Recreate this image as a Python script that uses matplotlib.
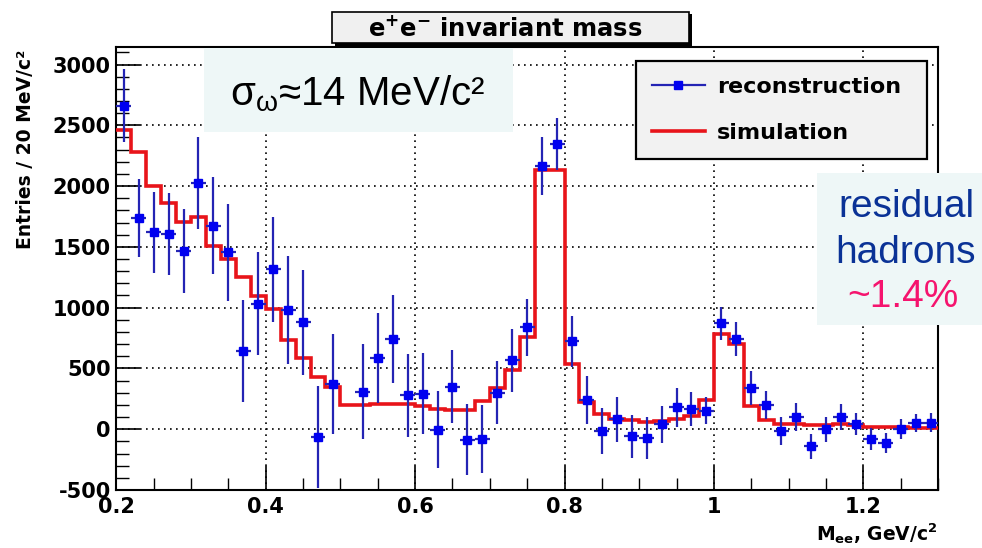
import numpy as np
import matplotlib
matplotlib.use("Agg")
import matplotlib.pyplot as plt
from matplotlib.patches import Rectangle
from matplotlib.lines import Line2D
from matplotlib.ticker import MultipleLocator, FixedLocator

plt.rcParams["axes.unicode_minus"] = False

# 20 MeV/c^2 bins from 0.2 to 1.3 GeV/c^2
bin_edges = np.linspace(0.2, 1.3, 56)
bin_centers = 0.5 * (bin_edges[:-1] + bin_edges[1:])

# reconstructed e+e- spectrum (nan = empty bin, not drawn)
reco = [2661, 1737, 1620, 1605, 1465, 2027, 1673, 1454, 642, 1034,
        1314, 979, 878, -65, 373, np.nan, 307, 587, 741, 280,
        293, -3, 348, -85, -77, 302, 568, 837, 2165, 2346,
        724, 239, -14, 80, -58, -71, 40, 180, 165, 151,
        870, 741, 340, 198, -14, 101, -140, 0, 101, 41,
        -77, -113, 0, 52, 55]
reco_err = [300, 320, 335, 338, 348, 380, 400, 400, 420, 425,
            430, 445, 435, 420, 410, np.nan, 390, 370, 360, 340,
            330, 320, 300, 290, 280, 262, 258, 235, 235, 215,
            210, 200, 190, 185, 178, 175, 155, 160, 140, 110,
            135, 137, 140, 117, 117, 112, 103, 103, 105, 90,
            90, 82, 82, 72, 75]

# simulated spectrum
sim = [2461, 2283, 2003, 1863, 1706, 1747, 1506, 1397, 1249, 1095,
       985, 733, 582, 431, 348, 203, 200, 205, 210, 205,
       195, 165, 160, 160, 230, 335, 486, 755, 2132, 2132,
       540, 225, 123, 88, 74, 60, 66, 82, 107, 244,
       782, 700, 189, 79, 41, 40, 38, 38, 40, 35,
       20, 18, 15, 10, 10]

x_ticks = [0.2, 0.4, 0.6, 0.8, 1.0, 1.2]
x_ticklabels = ["0.2", "0.4", "0.6", "0.8", "1", "1.2"]
y_ticks = [-500, 0, 500, 1000, 1500, 2000, 2500, 3000]

blue = "#0000f0"
blue_line = "#2424b4"
red = "#e8141a"
box_fill = "#eef7f7"

fig = plt.figure(figsize=(9.82, 5.48), dpi=100)
W, H = 982.0, 548.0
ax = fig.add_axes([116.3 / W, 1 - 490 / H, (938 - 116.3) / W, (490 - 47) / H])

# simulation histogram
ax.stairs(sim, bin_edges, color=red, lw=2.6, baseline=None, zorder=3)

# reconstruction points with errors
half_bin = np.diff(bin_edges) / 2
ax.errorbar(bin_centers, reco, yerr=reco_err, xerr=half_bin, fmt="s",
            color=blue_line, mfc=blue, mec=blue, ms=6, elinewidth=1.6,
            capsize=0, zorder=4)

ax.set_xlim(0.2, 1.3)
ax.set_ylim(-500, 3144)

ax.xaxis.set_major_locator(FixedLocator(x_ticks))
ax.set_xticklabels(x_ticklabels)
ax.xaxis.set_minor_locator(MultipleLocator(0.05))
ax.yaxis.set_major_locator(FixedLocator(y_ticks))
ax.yaxis.set_minor_locator(MultipleLocator(100))

ax.tick_params(which="both", direction="in", top=False, right=False, colors="black")
ax.tick_params(which="major", length=17, width=1.2, labelsize=15)
ax.tick_params(which="minor", length=9, width=1.0)
ax.tick_params(axis="y", pad=4)
ax.tick_params(axis="x", pad=5)
for lbl in ax.get_xticklabels() + ax.get_yticklabels():
    lbl.set_fontweight("bold")
    lbl.set_family("DejaVu Sans")

ax.grid(True, which="major", color="black", linestyle=(0, (1, 2.6)), lw=1.2)
for sp in ax.spines.values():
    sp.set_linewidth(1.5)
    sp.set_color("black")

# legend
handles = [
    Line2D([], [], color=blue_line, lw=1.6, marker="s", ms=6, mfc=blue, mec=blue),
    Line2D([], [], color=red, lw=2.6),
]
leg = ax.legend(handles, ["reconstruction", "simulation"],
                loc="upper left",
                bbox_to_anchor=((636 - 116.3) / 821.7, (490 - 61) / 443.0,
                                (927 - 636) / 821.7, 0.0),
                mode="expand", prop={"weight": "bold", "size": 16},
                frameon=True, fancybox=False, borderpad=0.7,
                labelspacing=1.2, handlelength=2.4, handletextpad=0.55,
                borderaxespad=0)
leg.get_frame().set_facecolor("#f2f2f2")
leg.get_frame().set_edgecolor("black")
leg.get_frame().set_linewidth(1.6)
leg.get_frame().set_alpha(1)
leg.set_zorder(6)

# axis labels
fig.text(26 / W, 1 - 50 / H, "Entries / 20 MeV/c²", rotation=90, ha="center",
         va="top", fontsize=13.5, fontweight="bold")
fig.text(938 / W, 1 - 541 / H, r"$\mathbf{M_{ee}}$, GeV/c$^{\mathbf{2}}$",
         ha="right", va="baseline", fontsize=13.5, fontweight="bold")

# title box with shadow
fig.add_artist(Rectangle((335 / W, 1 - 46 / H), 357 / W, 32 / H,
                         transform=fig.transFigure, facecolor="black",
                         edgecolor="none", zorder=5))
fig.add_artist(Rectangle((332 / W, 1 - 43 / H), 357 / W, 31 / H,
                         transform=fig.transFigure, facecolor="#f0f0f0",
                         edgecolor="black", lw=1.2, zorder=6))
fig.text(505 / W, 1 - 28 / H, r"$\mathbf{e^{+}e^{-}}$ invariant mass",
         ha="center", va="center", fontsize=17.5, fontweight="bold", zorder=7)

# sigma annotation box
fig.add_artist(Rectangle((204 / W, 1 - 132 / H), (513 - 204) / W, (132 - 48) / H,
                         transform=fig.transFigure, facecolor=box_fill,
                         edgecolor="none", zorder=7))
fig.text(358 / W, 1 - 105 / H, r"σ$_{\mathregular{ω}}$≈14 MeV/c²", ha="center",
         va="baseline", fontsize=29, family="Liberation Sans", color="black",
         zorder=8)

# residual hadrons box
fig.add_artist(Rectangle((817 / W, 1 - 325 / H), (982 - 817) / W, (325 - 173) / H,
                         transform=fig.transFigure, facecolor=box_fill,
                         edgecolor="none", zorder=7))
fig.text(906 / W, 1 - 217 / H, "residual", ha="center", va="baseline",
         fontsize=28, family="Liberation Sans", color="#0a3296", zorder=8)
fig.text(906 / W, 1 - 263 / H, "hadrons", ha="center", va="baseline",
         fontsize=28, family="Liberation Sans", color="#0a3296", zorder=8)
fig.text(903 / W, 1 - 307 / H, "~1.4%", ha="center", va="baseline",
         fontsize=28, family="Liberation Sans", color="#f5146e", zorder=8)

fig.savefig("out.png", dpi=100, facecolor="white")
